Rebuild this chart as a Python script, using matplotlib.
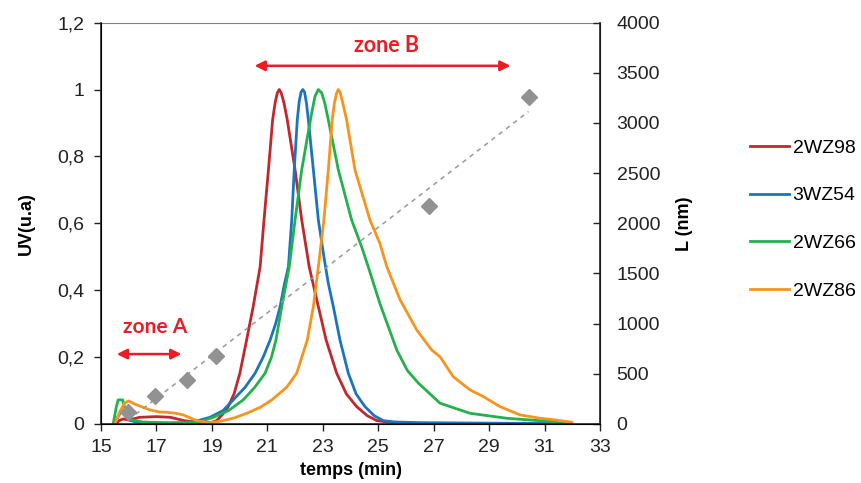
import numpy as np
import matplotlib
matplotlib.use("Agg")
import matplotlib.pyplot as plt

plt.rcParams['font.family'] = ['Liberation Sans', 'DejaVu Sans']

# --- données ---
t_2wz98 = [15.55, 15.65, 15.8, 16.0, 16.4, 17.0, 17.5, 18.0, 18.5, 19.0, 19.17, 19.4, 19.59, 19.8,
           20.01, 20.25, 20.49, 20.74, 20.88, 21.04, 21.19, 21.28, 21.36, 21.43, 21.5, 21.6, 21.72,
           22.0, 22.24, 22.51, 22.84, 23.12, 23.5, 23.85, 24.22, 24.6, 24.95, 25.5, 26.0, 26.2, 27.2]
uv_2wz98 = [0, 0.01, 0.015, 0.012, 0.02, 0.022, 0.02, 0.01, 0.004, 0.005, 0.01, 0.03, 0.052, 0.09,
            0.152, 0.25, 0.351, 0.47, 0.61, 0.76, 0.909, 0.96, 0.99, 1.0, 0.99, 0.96, 0.909,
            0.76, 0.61, 0.47, 0.351, 0.251, 0.152, 0.09, 0.052, 0.025, 0.01, 0.004, 0.002, -0.003,
            -0.003]

t_3wz54 = [15.5, 15.6, 15.75, 15.85, 16.0, 16.3, 17.0, 18.0, 18.5, 18.93, 19.4, 19.77, 20.2, 20.56,
           20.85, 21.1, 21.3, 21.46, 21.62, 21.76, 21.88, 21.97, 22.08, 22.15, 22.22, 22.28, 22.34,
           22.41, 22.48, 22.66, 22.84, 23.04, 23.2, 23.38, 23.62, 23.92, 24.2, 24.52, 24.85, 25.18,
           25.6, 26.5, 28.0, 30.0, 31.9]
uv_3wz54 = [0, 0.02, 0.04, 0.03, 0.012, 0.005, 0.003, 0.003, 0.01, 0.02, 0.04, 0.072, 0.11, 0.152,
            0.2, 0.251, 0.3, 0.351, 0.42, 0.47, 0.61, 0.76, 0.909, 0.965, 0.993, 1.0, 0.993,
            0.96, 0.909, 0.76, 0.61, 0.5, 0.42, 0.351, 0.251, 0.152, 0.09, 0.052, 0.025, 0.01,
            0.006, 0.004, 0.003, 0.002, 0.001]

t_2wz66 = [15.44, 15.55, 15.62, 15.78, 15.85, 15.93, 16.1, 16.5, 17.5, 18.5, 19.05, 19.6, 20.13,
           20.55, 20.92, 21.15, 21.31, 21.52, 21.79, 22.0, 22.24, 22.45, 22.6, 22.72, 22.84, 22.96,
           23.07, 23.2, 23.56, 24.04, 24.4, 24.64, 25.06, 25.67, 26.05, 26.45, 27.23, 28.31, 29.64,
           30.8, 31.98]
uv_2wz66 = [0, 0.05, 0.072, 0.072, 0.05, 0.027, 0.012, 0.006, 0.003, 0.005, 0.02, 0.04, 0.072,
            0.11, 0.152, 0.2, 0.251, 0.351, 0.47, 0.61, 0.76, 0.86, 0.93, 0.98, 1.0, 0.99,
            0.96, 0.909, 0.76, 0.61, 0.53, 0.47, 0.36, 0.221, 0.16, 0.122, 0.062, 0.032, 0.017,
            0.01, 0.005]

t_2wz86 = [15.5, 15.7, 15.85, 15.99, 16.29, 16.77, 17.1, 17.37, 17.7, 17.97, 18.45, 18.9, 19.29,
           19.8, 20.26, 20.75, 21.16, 21.7, 22.06, 22.44, 22.66, 22.84, 23.04, 23.2, 23.34, 23.42,
           23.5, 23.56, 23.63, 23.72, 23.86, 24.16, 24.52, 24.7, 25.06, 25.31, 25.79, 26.39, 26.93,
           27.23, 27.71, 28.31, 28.79, 29.39, 30.12, 30.84, 31.4, 31.98]
uv_2wz86 = [0, 0.04, 0.062, 0.069, 0.057, 0.042, 0.036, 0.035, 0.032, 0.027, 0.01, 0.004, 0.008,
            0.018, 0.032, 0.05, 0.072, 0.11, 0.152, 0.251, 0.351, 0.47, 0.61, 0.76, 0.909, 0.96,
            0.99, 1.0, 0.99, 0.96, 0.909, 0.76, 0.66, 0.61, 0.54, 0.47, 0.371, 0.281, 0.221,
            0.201, 0.141, 0.102, 0.082, 0.052, 0.027, 0.017, 0.012, 0.005]

t_longueur = [15.99, 16.95, 18.12, 19.15, 26.82, 30.42]
longueur_nm = [123, 282, 439, 681, 2173, 3257]

noms = ["2WZ98", "3WZ54", "2WZ66", "2WZ86"]
couleurs = ["#C1272D", "#1C75BC", "#22B14C", "#F7941D"]
series = [(t_2wz98, uv_2wz98), (t_3wz54, uv_3wz54), (t_2wz66, uv_2wz66), (t_2wz86, uv_2wz86)]

xticks = [15, 17, 19, 21, 23, 25, 27, 29, 31, 33]
yticks_uv = [0, 0.2, 0.4, 0.6, 0.8, 1.0, 1.2]
ylabels_uv = ["0", "0,2", "0,4", "0,6", "0,8", "1", "1,2"]
yticks_l = [0, 500, 1000, 1500, 2000, 2500, 3000, 3500, 4000]

fig = plt.figure(figsize=(8.61, 4.83), dpi=100)
ax = fig.add_axes([0.1173, 0.1222, 0.5796, 0.8309])

for (t, uv), nom, c in zip(series, noms, couleurs):
    ax.plot(t, uv, color=c, lw=2, label=nom, solid_joinstyle='round')

ax.set_xlim(15, 33)
ax.set_ylim(0, 1.2)
ax.set_xticks(xticks)
ax.set_yticks(yticks_uv)
ax.set_yticklabels(ylabels_uv)
ax.tick_params(axis='both', labelsize=14, colors='#222222', length=5, width=1, direction='out')
ax.tick_params(axis='y', pad=7)
ax.tick_params(axis='x', pad=6)
ax.set_xlabel("temps (min)", fontsize=13, fontweight='bold', labelpad=4)
ax.set_ylabel("UV(u.a)", fontsize=13, fontweight='bold', labelpad=16)
for s in ['left', 'bottom']:
    ax.spines[s].set_linewidth(1.2)
    ax.spines[s].set_color('#222222')
ax.spines['top'].set_color('#808080')
ax.spines['top'].set_linewidth(0.8)

# axe secondaire : longueur
ax2 = ax.twinx()
ax2.set_ylim(0, 4000)
ax2.set_yticks(yticks_l)
ax2.tick_params(axis='y', labelsize=14, colors='#222222', length=5, width=1, direction='in', pad=12)
ax2.spines['right'].set_linewidth(1.2)
ax2.spines['right'].set_color('#222222')
ax2.spines['top'].set_visible(False)
ax2.set_ylabel("L (nm)", fontsize=13, fontweight='bold', labelpad=11)

coef = np.polyfit(t_longueur, longueur_nm, 1)
xt = np.array([t_longueur[0], t_longueur[-1]])
ax2.plot(xt, np.polyval(coef, xt), ls=(0, (3, 3)), color='#999999', lw=1.1)
ax2.plot(t_longueur, longueur_nm, ls='none', marker='D', ms=8.5, color='#929292')

# zones
rouge = "#ED1C24"
ax.annotate("", xy=(15.47, 0.209), xytext=(18.0, 0.209),
            arrowprops=dict(arrowstyle='<|-|>', color=rouge, lw=1.8, mutation_scale=15))
ax.text(16.95, 0.29, "zone A", color=rouge, fontsize=15, fontweight='bold',
        family='Lato', ha='center', va='center')
ax.annotate("", xy=(20.44, 1.071), xytext=(29.87, 1.071),
            arrowprops=dict(arrowstyle='<|-|>', color=rouge, lw=1.8, mutation_scale=15))
ax.text(25.28, 1.133, "zone B", color=rouge, fontsize=15.5, fontweight='bold',
        family='Lato', ha='center', va='center')

h, l = ax.get_legend_handles_labels()
fig.legend(h, l, loc='center left', bbox_to_anchor=(0.871, 0.5457), frameon=False,
           fontsize=14, handlelength=2.0, handletextpad=0.2, labelspacing=1.55,
           borderpad=0, borderaxespad=0)

fig.savefig("out.png", dpi=100)
